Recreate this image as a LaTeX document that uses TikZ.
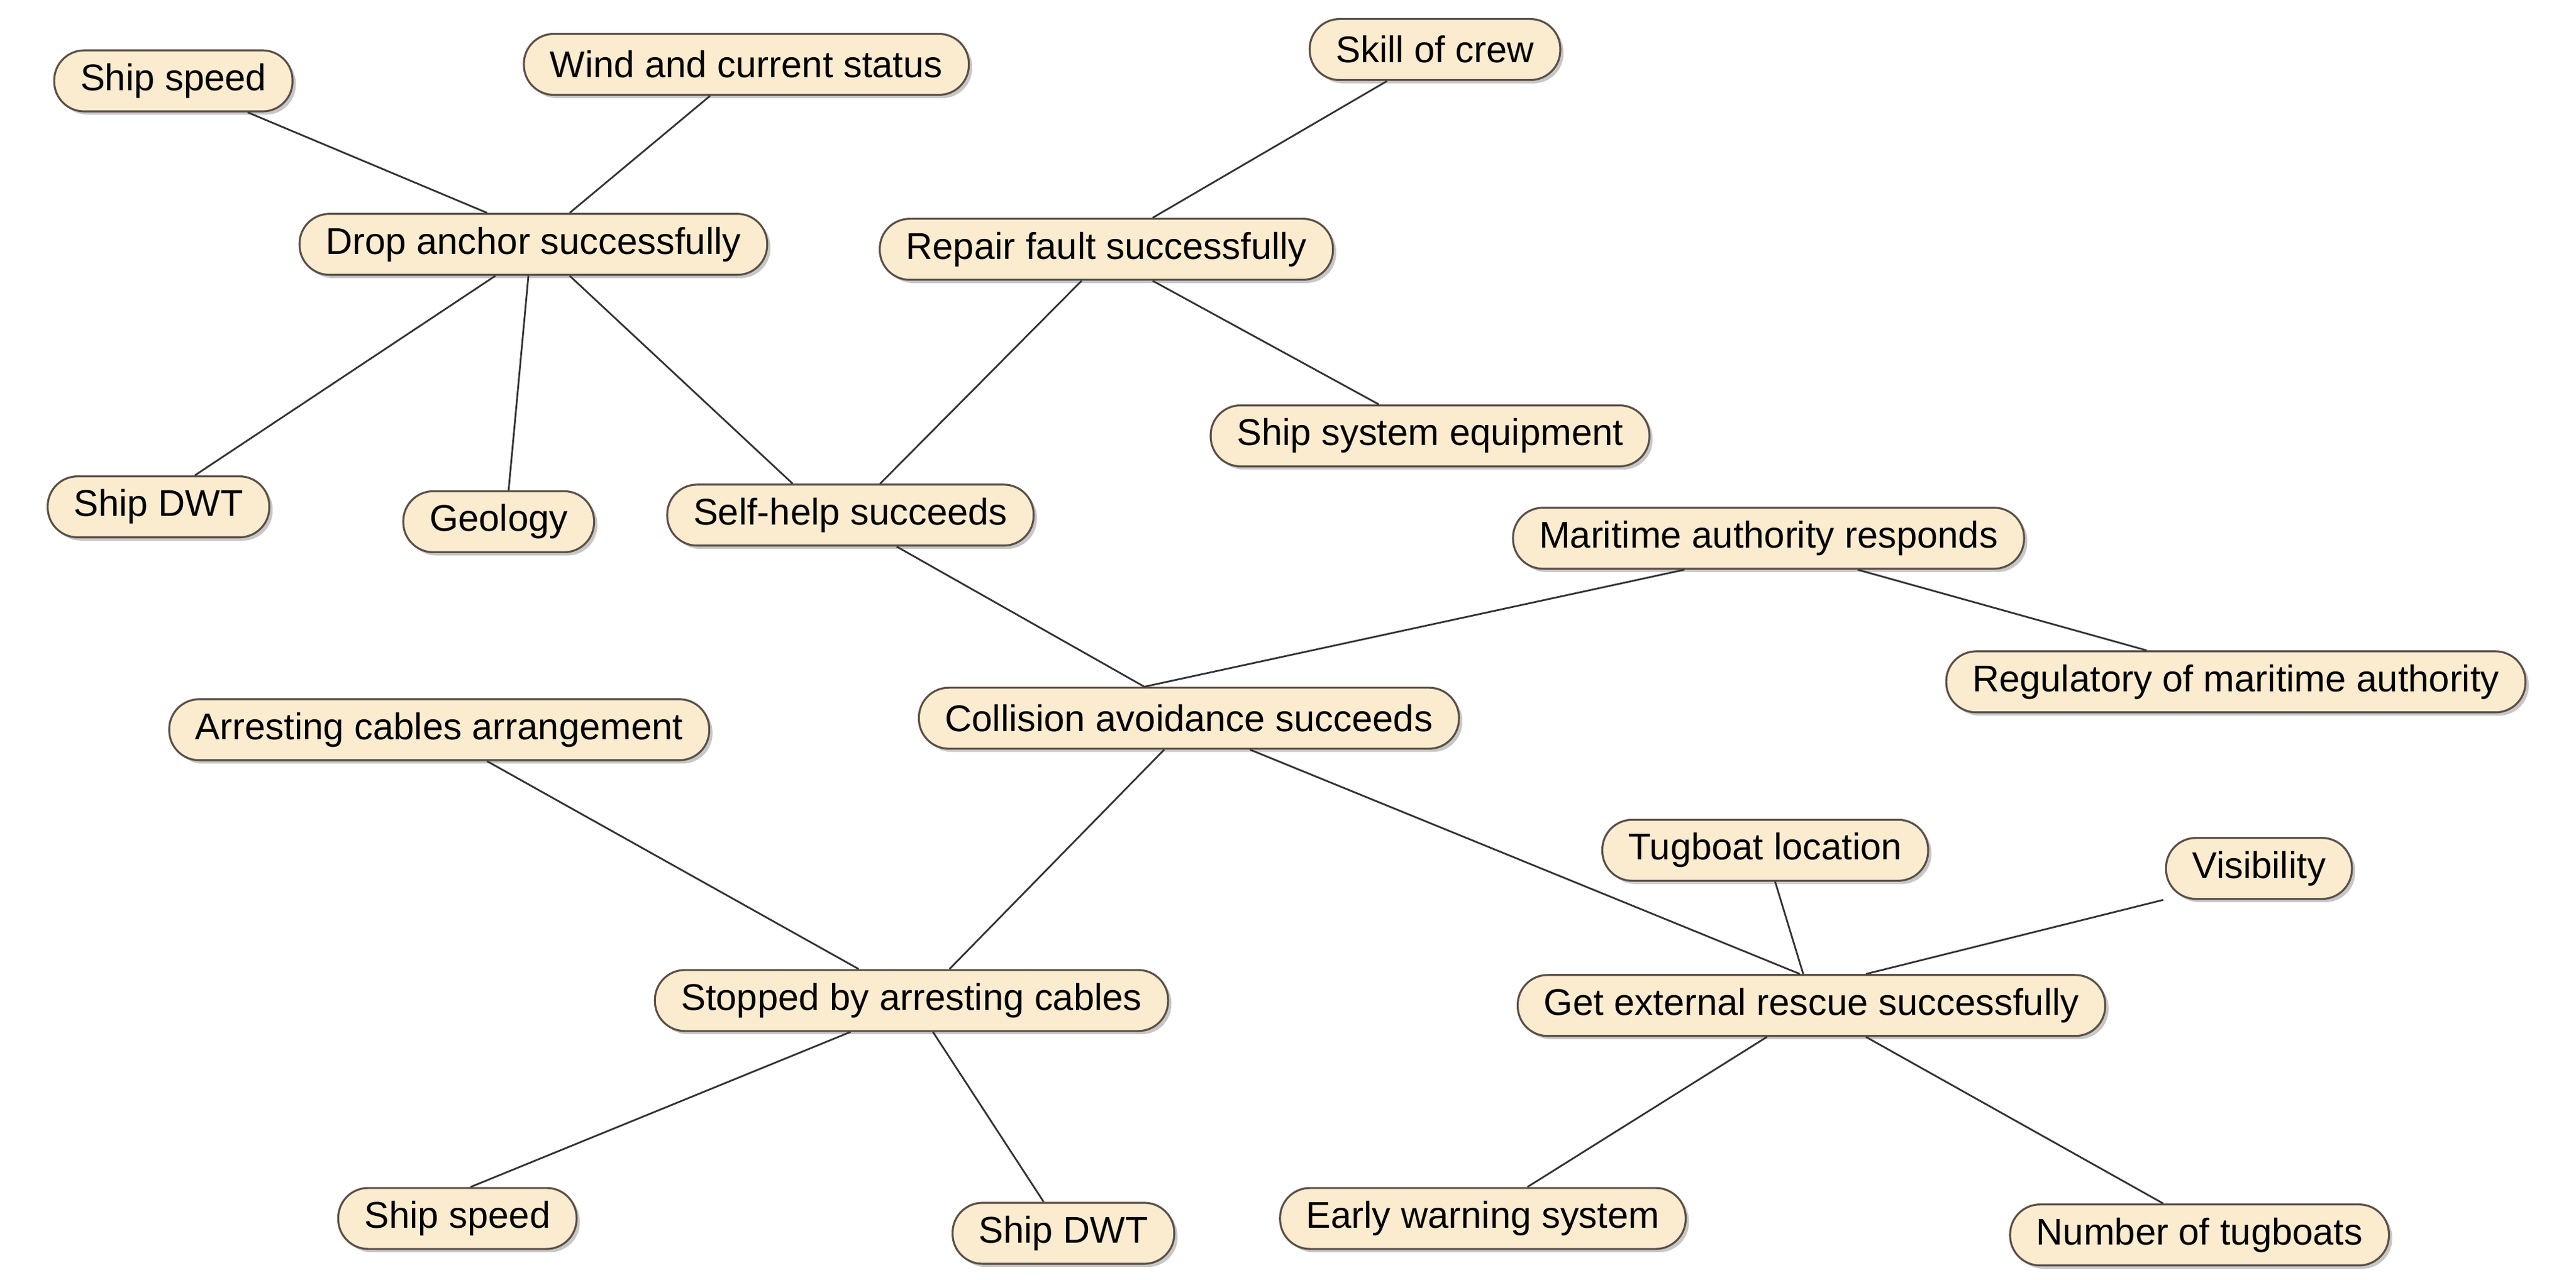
\documentclass[tikz,border=0pt]{standalone}
\usepackage{fontspec}
\setmainfont{Liberation Sans}
\usetikzlibrary{calc,shadows}
\definecolor{nfill}{HTML}{FBEBCF}
\definecolor{nline}{HTML}{5A5048}
\begin{document}
\begin{tikzpicture}[x=0.02653cm,y=-0.02653cm,
  box/.style={draw=nline,line width=0.9pt,fill=nfill,rounded corners=0.48cm,minimum height=0.98cm,inner xsep=0.42cm,font=\fontsize{17}{19}\selectfont,
    drop shadow={shadow xshift=1.5pt,shadow yshift=-1.5pt,fill=gray!55,opacity=0.8}},
  ln/.style={draw=black!80,line width=0.8pt}]
\useasboundingbox (0,0) rectangle (1560,775);
\node[box] (n1) at (105,49) {Ship speed};
\node[box] (n2) at (452,39) {Wind and current status};
\node[box] (n3) at (869,30) {Skill of crew};
\node[box] (n4) at (323,148) {Drop anchor successfully};
\node[box] (n5) at (670,151) {Repair fault successfully};
\node[box] (n6) at (866,264) {Ship system equipment};
\node[box] (n7) at (96,307) {Ship DWT};
\node[box] (n8) at (302,316) {Geology};
\node[box] (n9) at (515,312) {Self-help succeeds};
\node[box] (n10) at (1071,326) {Maritime authority responds};
\node[box] (n11) at (1354,413) {Regulatory of maritime authority};
\node[box] (n12) at (266,442) {Arresting cables arrangement};
\node[box] (n13) at (720,435) {Collision avoidance succeeds};
\node[box] (n14) at (1069,515) {Tugboat location};
\node[box] (n15) at (1368,526) {Visibility};
\node[box] (n16) at (552,606) {Stopped by arresting cables};
\node[box] (n17) at (1097,609) {Get external rescue successfully};
\node[box] (n18) at (277,738) {Ship speed};
\node[box] (n19) at (644,747) {Ship DWT};
\node[box] (n20) at (898,738) {Early warning system};
\node[box] (n21) at (1332,748) {Number of tugboats};
\begin{scope}[on background layer/.try]
\end{scope}
\draw[ln] ($(n1.south)+(45,0)$) -- ($(n4.north)+(-28,0)$);
\draw[ln] ($(n2.south)+(-22,0)$) -- ($(n4.north)+(22,0)$);
\draw[ln] ($(n7.north)+(22,0)$) -- ($(n4.south)+(-23,0)$);
\draw[ln] ($(n8.north)+(6,0)$) -- ($(n4.south)+(-3,0)$);
\draw[ln] ($(n9.north)+(-35,0)$) -- ($(n4.south)+(22,0)$);
\draw[ln] ($(n3.south)+(-29,0)$) -- ($(n5.north)+(28,0)$);
\draw[ln] ($(n5.south)+(28,0)$) -- ($(n6.north)+(-31,0)$);
\draw[ln] ($(n5.south)+(-15,0)$) -- ($(n9.north)+(18,0)$);
\draw[ln] ($(n9.south)+(28,0)$) -- ($(n13.north)+(-27,0)$);
\draw[ln] ($(n10.south)+(-51,0)$) -- ($(n13.north)+(-27,0)$);
\draw[ln] ($(n11.north)+(-54,0)$) -- ($(n10.south)+(54,0)$);
\draw[ln] ($(n12.south)+(29,0)$) -- ($(n16.north)+(-32,0)$);
\draw[ln] ($(n16.north)+(23,0)$) -- ($(n13.south)+(-15,0)$);
\draw[ln] ($(n17.north)+(-7,0)$) -- ($(n13.south)+(37,0)$);
\draw[ln] ($(n14.south)+(6,0)$) -- ($(n17.north)+(-5,0)$);
\draw[ln] ($(n15.south)+(-58,0)$) -- ($(n17.north)+(33,0)$);
\draw[ln] ($(n18.north)+(8,0)$) -- ($(n16.south)+(-37,0)$);
\draw[ln] ($(n19.north)+(-12,0)$) -- ($(n16.south)+(13,0)$);
\draw[ln] ($(n20.north)+(27,0)$) -- ($(n17.south)+(-27,0)$);
\draw[ln] ($(n21.north)+(-22,0)$) -- ($(n17.south)+(33,0)$);
\end{tikzpicture}
\end{document}
